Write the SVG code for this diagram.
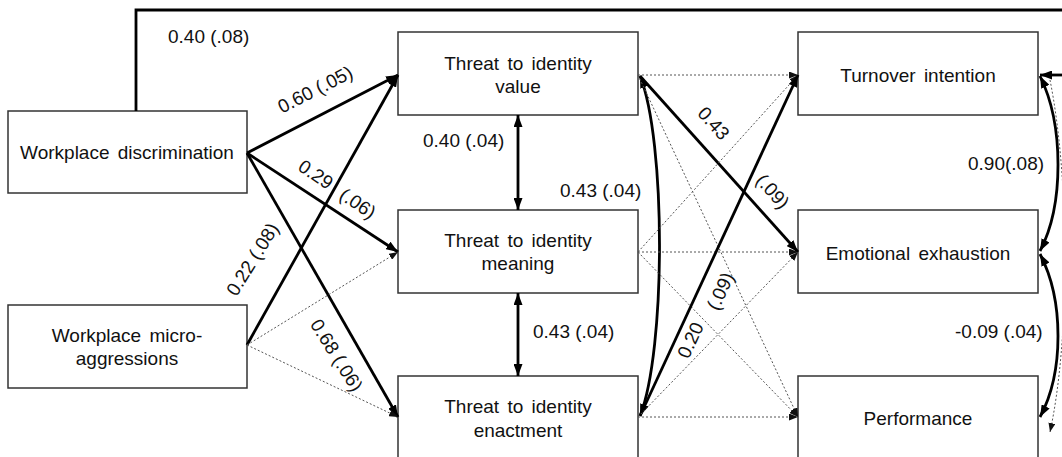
<svg xmlns="http://www.w3.org/2000/svg" width="1062" height="457" viewBox="0 0 1062 457">
<style>
  .box { fill: #fff; stroke: #333; stroke-width: 1.5; }
  .t { font-family: "Liberation Sans", Arial, sans-serif; font-size: 19px; fill: #111; text-anchor: middle; word-spacing: 3px; }
  .lbl { font-family: "Liberation Sans", Arial, sans-serif; font-size: 19px; fill: #111; }
  .solid { fill: none; stroke: #000; stroke-width: 2.8; }
  .dot { fill: none; stroke: #555; stroke-width: 1; stroke-dasharray: 2 2; }
</style>
<defs>
  <marker id="ah" viewBox="0 0 10 10" refX="10" refY="5" markerWidth="12" markerHeight="9" markerUnits="userSpaceOnUse" orient="auto-start-reverse" preserveAspectRatio="none">
    <path d="M0,0 L10,5 L0,10 z" fill="#000"/>
  </marker>
  <marker id="ahd" viewBox="0 0 10 10" refX="10" refY="5" markerWidth="9" markerHeight="7" markerUnits="userSpaceOnUse" orient="auto-start-reverse" preserveAspectRatio="none">
    <path d="M0,0 L10,5 L0,10 z" fill="#111"/>
  </marker>
</defs>

<g id="node-discrimination">
  <rect class="box" x="8" y="111" width="239" height="82"/>
  <text class="t" x="127" y="159">Workplace discrimination</text>
</g>
<g id="node-microaggressions">
  <rect class="box" x="8" y="305" width="239" height="83"/>
  <text class="t" x="127" y="342">Workplace micro-</text>
  <text class="t" x="127" y="365">aggressions</text>
</g>
<g id="node-value">
  <rect class="box" x="398" y="32" width="240" height="83"/>
  <text class="t" x="518" y="70">Threat to identity</text>
  <text class="t" x="518" y="93">value</text>
</g>
<g id="node-meaning">
  <rect class="box" x="398" y="210" width="240" height="83"/>
  <text class="t" x="518" y="247">Threat to identity</text>
  <text class="t" x="518" y="270">meaning</text>
</g>
<g id="node-enactment">
  <rect class="box" x="398" y="376" width="240" height="84"/>
  <text class="t" x="518" y="413">Threat to identity</text>
  <text class="t" x="518" y="437">enactment</text>
</g>
<g id="node-turnover">
  <rect class="box" x="798" y="32" width="240" height="83"/>
  <text class="t" x="918" y="82">Turnover intention</text>
</g>
<g id="node-exhaustion">
  <rect class="box" x="798" y="210" width="240" height="83"/>
  <text class="t" x="918" y="260">Emotional exhaustion</text>
</g>
<g id="node-performance">
  <rect class="box" x="798" y="376" width="240" height="84"/>
  <text class="t" x="918" y="425">Performance</text>
</g>

<g id="connectors">
  <!-- top direct path -->
  <path class="solid" d="M136,111 V10 H1066"/>
  <line class="solid" x1="1066" y1="75" x2="1040" y2="75" marker-end="url(#ah)"/>

  <!-- left: predictors to mediators -->
  <line class="solid" x1="247" y1="153" x2="398" y2="75" marker-end="url(#ah)"/>
  <line class="solid" x1="247" y1="153" x2="398" y2="252" marker-end="url(#ah)"/>
  <line class="solid" x1="247" y1="153" x2="398" y2="417" marker-end="url(#ah)"/>
  <line class="solid" x1="247" y1="345" x2="398" y2="75" marker-end="url(#ah)"/>
  <line class="dot" x1="247" y1="345" x2="398" y2="252" marker-end="url(#ahd)"/>
  <line class="dot" x1="247" y1="345" x2="398" y2="417" marker-end="url(#ahd)"/>

  <!-- mediator covariances -->
  <line class="solid" x1="518" y1="115" x2="518" y2="210" marker-start="url(#ah)" marker-end="url(#ah)"/>
  <line class="solid" x1="518" y1="293" x2="518" y2="376" marker-start="url(#ah)" marker-end="url(#ah)"/>
  <path class="solid" d="M640,76 C666,140 666,350 640,416" marker-start="url(#ah)" marker-end="url(#ah)"/>

  <!-- mediators to outcomes -->
  <line class="dot" x1="638" y1="75" x2="798" y2="75" marker-end="url(#ahd)"/>
  <line class="dot" x1="638" y1="75" x2="798" y2="417" marker-end="url(#ahd)"/>
  <line class="solid" x1="640" y1="76" x2="798" y2="252" marker-end="url(#ah)"/>
  <line class="dot" x1="638" y1="252" x2="798" y2="75" marker-end="url(#ahd)"/>
  <line class="dot" x1="638" y1="252" x2="798" y2="252" marker-end="url(#ahd)"/>
  <line class="dot" x1="638" y1="252" x2="798" y2="417" marker-end="url(#ahd)"/>
  <line class="solid" x1="640" y1="416" x2="798" y2="75" marker-end="url(#ah)"/>
  <line class="dot" x1="638" y1="417" x2="798" y2="252" marker-end="url(#ahd)"/>
  <line class="dot" x1="638" y1="417" x2="798" y2="417" marker-end="url(#ahd)"/>

  <!-- outcome covariances -->
  <path class="solid" d="M1040,76 C1064,125 1064,205 1040,251" stroke-width="2.4" marker-start="url(#ah)" marker-end="url(#ah)"/>
  <path class="solid" d="M1040,254 C1064,300 1064,372 1040,417" stroke-width="2.4" marker-start="url(#ah)" marker-end="url(#ah)"/>
  <path class="dot" d="M1050,80 C1070,180 1070,340 1050,432" marker-end="url(#ahd)"/>
</g>

<g id="labels">
  <text class="lbl" x="168" y="43">0.40 (.08)</text>
  <text class="lbl" text-anchor="middle" transform="translate(315,89) rotate(-27)" y="7">0.60 (.05)</text>
  <text class="lbl" text-anchor="middle" transform="translate(316,174) rotate(34)" y="7">0.29</text>
  <text class="lbl" text-anchor="middle" transform="translate(358,203) rotate(34)" y="7">(.06)</text>
  <text class="lbl" text-anchor="middle" transform="translate(252,259) rotate(-58)" y="7">0.22 (.08)</text>
  <text class="lbl" text-anchor="middle" transform="translate(337,355) rotate(58)" y="7">0.68 (.06)</text>
  <text class="lbl" x="423" y="147">0.40 (.04)</text>
  <text class="lbl" x="560" y="197">0.43 (.04)</text>
  <text class="lbl" x="533" y="338">0.43 (.04)</text>
  <text class="lbl" text-anchor="middle" transform="translate(714,123) rotate(48)" y="7">0.43</text>
  <text class="lbl" text-anchor="middle" transform="translate(773,191) rotate(48)" y="7">(.09)</text>
  <text class="lbl" text-anchor="middle" transform="translate(690,340) rotate(-65)" y="7">0.20</text>
  <text class="lbl" text-anchor="middle" transform="translate(720,291) rotate(-65)" y="7">(.09)</text>
  <text class="lbl" x="968" y="170">0.90(.08)</text>
  <text class="lbl" x="955" y="338">-0.09 (.04)</text>
</g>
</svg>
